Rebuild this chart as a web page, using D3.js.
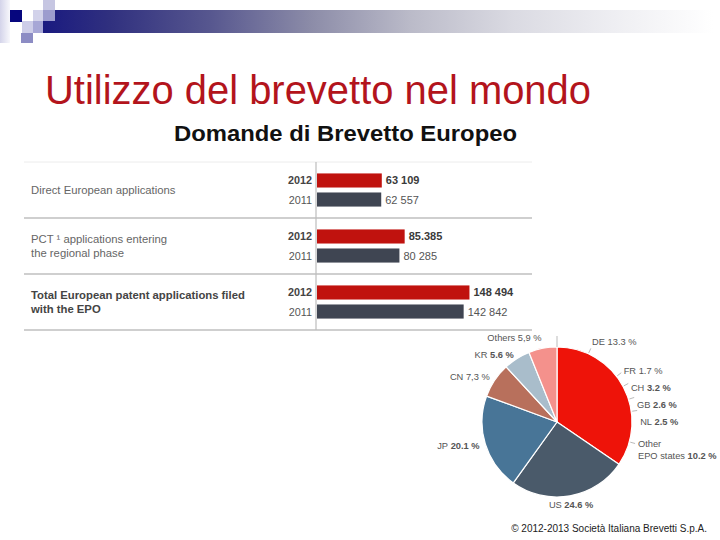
<!DOCTYPE html>
<html>
<head>
<meta charset="utf-8">
<script src="https://cdn.jsdelivr.net/npm/d3@7"></script>
<style>
  body { margin: 0; background: #fff; }
  svg { display: block; font-family: "Liberation Sans", Arial, sans-serif; }
</style>
</head>
<body>
<svg id="chart" width="720" height="540"></svg>
<script>
// Bar chart data
const categories = [
    ["Direct European applications"],
    ["PCT \u00b9 applications entering", "the regional phase"],
    ["Total European patent applications filed", "with the EPO"]
];
const years = ["2012", "2011"];
const values2012 = [63109, 85385, 148494];
const values2011 = [62557, 80285, 142842];
const valueLabels2012 = ["63 109", "85.385", "148 494"];
const valueLabels2011 = ["62 557", "80 285", "142 842"];

// Pie data (clockwise from 12 o'clock)
const pieNames = ["DE", "FR", "CH", "GB", "NL", "Other\nEPO states", "US", "JP", "CN", "KR", "Others"];
const pieValues = [13.3, 1.7, 3.2, 2.6, 2.5, 10.2, 24.6, 20.1, 7.3, 5.6, 5.9];
const pieValueLabels = ["13.3 %", "1.7 %", "3.2 %", "2.6 %", "2.5 %", "10.2 %", "24.6 %", "20.1 %", "7,3 %", "5.6 %", "5,9 %"];
const pieGroups = ["EPO", "EPO", "EPO", "EPO", "EPO", "EPO", "US", "JP", "CN", "KR", "Others"];

var svg = d3.select("#chart");

// ---- header decoration ----
var defs = svg.append("defs");
var barGrad = defs.append("linearGradient").attr("id", "hdr");
[[0, "#1a1a80"], [0.1, "#30307f"], [0.25, "#57578f"], [0.4, "#8c8ca8"],
 [0.55, "#bbbbc9"], [0.7, "#dadae2"], [0.85, "#eeeef2"], [1, "#ffffff"]]
    .forEach(s => barGrad.append("stop").attr("offset", s[0]).attr("stop-color", s[1]));
var sideGrad = defs.append("linearGradient").attr("id", "side");
sideGrad.append("stop").attr("offset", 0).attr("stop-color", "#d4d4ea");
sideGrad.append("stop").attr("offset", 1).attr("stop-color", "#f8f8fc");

svg.append("rect").attr("x", 43).attr("y", 10).attr("width", 670).attr("height", 23).attr("fill", "url(#hdr)");
svg.append("rect").attr("x", 0).attr("y", 0).attr("width", 10).attr("height", 43).attr("fill", "url(#side)");
var squares = [
    [10, 10, 12, 12, "#06067e"],
    [33, 10, 10, 11, "#d2d2ea"],
    [43, 0, 12, 10, "#c6c6e2"],
    [43, 10, 12, 11, "#9c9cce"],
    [22, 21, 11, 12, "#cdcde8"],
    [33, 21, 10, 12, "#a7a7d6"],
    [21, 33, 12, 10, "#8c8cc4"]
];
svg.selectAll(".sq").data(squares).enter().append("rect")
    .attr("x", d => d[0]).attr("y", d => d[1])
    .attr("width", d => d[2]).attr("height", d => d[3])
    .attr("fill", d => d[4]);

// ---- titles ----
svg.append("text")
    .attr("x", 45).attr("y", 104)
    .attr("font-size", 41)
    .attr("fill", "#b3141c")
    .attr("textLength", 546).attr("lengthAdjust", "spacingAndGlyphs")
    .text("Utilizzo del brevetto nel mondo");

svg.append("text")
    .attr("x", 174).attr("y", 141)
    .attr("font-size", 22)
    .attr("font-weight", "bold")
    .attr("fill", "#111")
    .attr("textLength", 343).attr("lengthAdjust", "spacingAndGlyphs")
    .text("Domande di Brevetto Europeo");

// ---- bar chart ----
var groupY = d3.scaleBand().domain(d3.range(categories.length)).range([162, 330]);
var yearY = d3.scaleBand().domain(years).range([0, groupY.bandwidth()])
    .paddingInner(0.26).paddingOuter(0.6);
var xScale = d3.scaleLinear().domain([0, 150000]).range([316, 470]);
var bw = yearY.bandwidth();

// row lines
svg.append("line").attr("x1", 24).attr("x2", 532)
    .attr("y1", groupY.range()[0]).attr("y2", groupY.range()[0])
    .attr("stroke", "#ececec").attr("stroke-width", 1);
svg.selectAll(".sep").data(d3.range(categories.length)).enter().append("line")
    .attr("x1", 24).attr("x2", 532)
    .attr("y1", d => groupY(d) + groupY.bandwidth())
    .attr("y2", d => groupY(d) + groupY.bandwidth())
    .attr("stroke", "#cfcfcf").attr("stroke-width", 2);
svg.append("line")
    .attr("x1", xScale(0)).attr("x2", xScale(0))
    .attr("y1", groupY.range()[0]).attr("y2", groupY.range()[1])
    .attr("stroke", "#bdbdbd").attr("stroke-width", 1.2);

// category labels
categories.forEach(function (lines, i) {
    var mid = groupY(i) + groupY.bandwidth() / 2;
    var t = svg.append("text")
        .attr("x", 31)
        .attr("font-size", 11.3)
        .attr("font-weight", i === categories.length - 1 ? "bold" : "normal")
        .attr("fill", i === categories.length - 1 ? "#444" : "#666");
    lines.forEach(function (ln, j) {
        t.append("tspan")
            .attr("x", 31)
            .attr("y", mid - (lines.length - 1) * 7 + 4 + j * 14)
            .text(ln);
    });
});

// bars
var series = [
    { year: "2012", values: values2012, labels: valueLabels2012, color: "#c0120e", bold: true },
    { year: "2011", values: values2011, labels: valueLabels2011, color: "#3f4552", bold: false }
];
series.forEach(function (s) {
    var g = svg.append("g");
    g.selectAll("rect").data(s.values).enter().append("rect")
        .attr("x", xScale(0) + 1)
        .attr("y", (d, i) => groupY(i) + yearY(s.year))
        .attr("width", d => xScale(d) - xScale(0))
        .attr("height", bw)
        .attr("fill", s.color);
    g.selectAll(".yr").data(s.values).enter().append("text")
        .attr("x", xScale(0) - 4)
        .attr("y", (d, i) => groupY(i) + yearY(s.year) + bw / 2 + 4)
        .attr("text-anchor", "end")
        .attr("font-size", 10.8)
        .attr("font-weight", s.bold ? "bold" : "normal")
        .attr("fill", s.bold ? "#444" : "#555")
        .text(s.year);
    g.selectAll(".val").data(s.values).enter().append("text")
        .attr("x", d => xScale(d) + 5)
        .attr("y", (d, i) => groupY(i) + yearY(s.year) + bw / 2 + 4)
        .attr("font-size", 11)
        .attr("font-weight", s.bold ? "bold" : "normal")
        .attr("fill", s.bold ? "#3a3a3a" : "#555")
        .text((d, i) => s.labels[i]);
});

// ---- pie chart ----
const cx = 557, cy = 422, r = 75;
var groupColor = d3.scaleOrdinal()
    .domain(["EPO", "US", "JP", "CN", "KR", "Others"])
    .range(["#ee1309", "#4a5a6a", "#487597", "#b8705c", "#a9bdcb", "#f4918c"]);
var boldPct = ["CH", "GB", "NL", "Other\nEPO states", "US", "JP", "KR"];

var arcs = d3.pie().sort(null).value(d => d)(pieValues);
var arc = d3.arc().innerRadius(0).outerRadius(r);
var pg = svg.append("g").attr("transform", `translate(${cx},${cy})`);

// merge consecutive slices of the same colour group into one wedge
var wedges = [];
arcs.forEach(function (d, i) {
    var last = wedges[wedges.length - 1];
    if (last && last.group === pieGroups[i]) {
        last.endAngle = d.endAngle;
    } else {
        wedges.push({ group: pieGroups[i], startAngle: d.startAngle, endAngle: d.endAngle });
    }
});
pg.selectAll("path").data(wedges).enter().append("path")
    .attr("d", arc)
    .attr("fill", d => groupColor(d.group))
    .attr("stroke", "#fff")
    .attr("stroke-width", 1.2)
    .attr("stroke-linejoin", "round");

// little tick above the pie at the start
pg.append("line")
    .attr("x1", 0).attr("x2", 0).attr("y1", -r).attr("y2", -r - 11)
    .attr("stroke", "#bbb").attr("stroke-width", 1);

// label layout
var labels = arcs.map(function (d, i) {
    var a = (d.startAngle + d.endAngle) / 2;
    var c = Math.cos(a), s = Math.sin(a);
    var R = s > 0.3 ? r + 9 : r + 6;
    var px = R * s, py = -R * c;
    var anchor = c < -0.9 ? "middle" : (s > 0 ? "start" : "end");
    var lines = pieNames[i].split("\n");
    var y = py + 3 + (c > 0.9 ? -4 : 0) + (c < -0.9 ? 3 : 0);
    return { i: i, a: a, x: px, y: y, anchor: anchor, lines: lines };
});
// push overlapping labels down on each side
["start", "end"].forEach(function (side) {
    var list = labels.filter(l => l.anchor === side).sort((p, q) => p.y - q.y);
    for (var k = 1; k < list.length; k++) {
        var minY = list[k - 1].y + 17 + (list[k - 1].lines.length - 1) * 12;
        if (list[k].y < minY) list[k].y = minY;
    }
});

// ticks for the EPO sub-slices
arcs.forEach(function (d, i) {
    if (pieGroups[i] !== "EPO") return;
    var a = (d.startAngle + d.endAngle) / 2;
    pg.append("line")
        .attr("x1", (r + 1) * Math.sin(a)).attr("y1", -(r + 1) * Math.cos(a))
        .attr("x2", (r + 6) * Math.sin(a)).attr("y2", -(r + 6) * Math.cos(a))
        .attr("stroke", "#bbb").attr("stroke-width", 1);
});

labels.forEach(function (l) {
    var t = pg.append("text")
        .attr("text-anchor", l.anchor)
        .attr("font-size", 9.3)
        .attr("fill", "#555");
    l.lines.forEach(function (ln, j) {
        t.append("tspan").attr("x", l.x).attr("y", l.y + j * 12).text(ln);
        if (j === l.lines.length - 1) {
            t.append("tspan")
                .attr("font-weight", boldPct.indexOf(pieNames[l.i]) >= 0 ? "bold" : "normal")
                .text(" " + pieValueLabels[l.i]);
        }
    });
});

// ---- footer ----
svg.append("text")
    .attr("x", 707).attr("y", 532)
    .attr("text-anchor", "end")
    .attr("font-size", 10)
    .attr("fill", "#222")
    .text("\u00a9 2012-2013 Societ\u00e0 Italiana Brevetti S.p.A.");
</script>
</body>
</html>
